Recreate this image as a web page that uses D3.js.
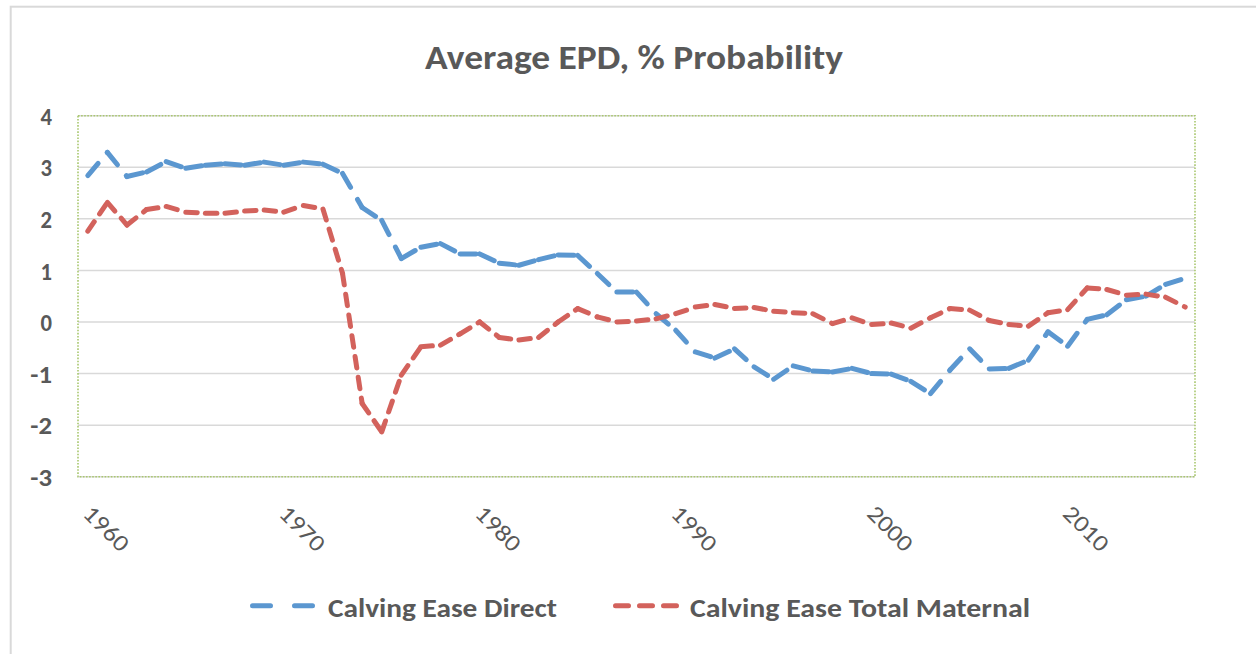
<!DOCTYPE html>
<html>
<head>
<meta charset="utf-8">
<script src="https://cdn.jsdelivr.net/npm/d3@7"></script>
<style>
  body { margin: 0; background: #fff; }
  text { font-family: Carlito, Calibri, Lato, "Open Sans", sans-serif; fill: #595959; }
</style>
</head>
<body>
<div id="chart"></div>
<script>
// Daten
const years = d3.range(1960, 2017);
const yTicks = [-3, -2, -1, 0, 1, 2, 3, 4];
const xLabels = [1960, 1970, 1980, 1990, 2000, 2010];
const seriesNames = ["Calving Ease Direct", "Calving Ease Total Maternal"];

const ceDirect = [2.84, 3.29, 2.82, 2.91, 3.11, 2.98, 3.04, 3.07, 3.04, 3.10,
  3.04, 3.10, 3.06, 2.88, 2.22, 1.97, 1.23, 1.45, 1.52, 1.32,
  1.32, 1.14, 1.10, 1.21, 1.30, 1.29, 0.94, 0.58, 0.58, 0.16,
  -0.16, -0.58, -0.70, -0.52, -0.87, -1.11, -0.85, -0.95, -0.97, -0.90,
  -1.00, -1.01, -1.15, -1.39, -0.93, -0.52, -0.91, -0.90, -0.74, -0.19,
  -0.47, 0.05, 0.14, 0.43, 0.50, 0.73, 0.85];

const ceMaternal = [1.76, 2.32, 1.88, 2.18, 2.24, 2.13, 2.11, 2.11, 2.15, 2.17,
  2.13, 2.26, 2.19, 0.94, -1.58, -2.13, -1.03, -0.48, -0.45, -0.23,
  0.00, -0.30, -0.35, -0.30, 0.00, 0.26, 0.10, 0.00, 0.02, 0.06,
  0.16, 0.29, 0.34, 0.26, 0.28, 0.21, 0.18, 0.16, -0.03, 0.08,
  -0.05, -0.02, -0.12, 0.08, 0.26, 0.23, 0.03, -0.05, -0.08, 0.18,
  0.24, 0.66, 0.63, 0.52, 0.54, 0.48, 0.29];

const W = 1256, H = 654;
const plot = { left: 78, right: 1195, top: 115.7, bottom: 476.7 };

const svg = d3.select("#chart").append("svg")
  .attr("width", W).attr("height", H);

svg.append("rect").attr("width", W).attr("height", H).attr("fill", "#fff");

// Rahmen des Diagramms
svg.append("rect")
  .attr("x", 10.7).attr("y", 6.7)
  .attr("width", W + 50).attr("height", H + 50)
  .attr("fill", "none").attr("stroke", "#d9d9d9").attr("stroke-width", 2);

const x = d3.scaleBand().domain(years).range([plot.left, plot.right]);
const cx = d => x(d) + x.bandwidth() / 2;
const y = d3.scaleLinear().domain([-3, 4]).range([plot.bottom, plot.top]);

// Text mit Höhe über font-size und Breite über scale(sx,1) anpassen
function label(str, o) {
  const t = svg.append("text")
    .attr("text-anchor", o.anchor || "start")
    .attr("font-size", o.size)
    .attr("font-weight", o.bold ? "bold" : null)
    .text(str);
  if (o.middle) t.attr("dominant-baseline", "central");
  const sx = o.width ? o.width / t.node().getComputedTextLength() : 1;
  t.attr("transform", `translate(${o.x},${o.y}) rotate(${o.rotate || 0}) scale(${sx},1)`);
  return t;
}

// Gitterlinien
svg.append("g").selectAll("line").data(yTicks).join("line")
  .attr("x1", plot.left).attr("x2", plot.right)
  .attr("y1", d => y(d)).attr("y2", d => y(d))
  .attr("stroke", "#d9d9d9").attr("stroke-width", 1.5);

// Plotbereich (gepunktet)
svg.append("rect")
  .attr("x", plot.left).attr("y", plot.top)
  .attr("width", plot.right - plot.left).attr("height", plot.bottom - plot.top)
  .attr("fill", "none").attr("stroke", "#a9c76e")
  .attr("stroke-width", 1.6).attr("stroke-dasharray", "1.6,1.5");

// Y-Achse: Ziffernhöhe ~16.7px
yTicks.forEach(t => {
  label(t, { x: 52, y: y(t) + 1, anchor: "end", middle: true, bold: true,
    size: 23.5, width: String(t).length === 2 ? 21.7 : 11.5 });
});

// X-Achse (gedreht, 45°)
xLabels.forEach(lbl => {
  label(lbl, { x: cx(lbl) - 6, y: 515, size: 23.5, width: 54, rotate: 45 });
});

// Linien: Strichmuster startet bei jedem Segment neu (wie Excel)
function drawSeries(values, color, dash) {
  const g = svg.append("g");
  const segs = d3.pairs(years.map((yr, i) => [cx(yr), y(values[i])]));
  g.selectAll("line").data(segs).join("line")
    .attr("x1", d => d[0][0]).attr("y1", d => d[0][1])
    .attr("x2", d => d[1][0]).attr("y2", d => d[1][1])
    .attr("stroke", color).attr("stroke-width", 5)
    .attr("stroke-linecap", "round")
    .attr("stroke-dasharray", dash);
}

const blue = "#5b97d0", red = "#d3625c";
drawSeries(ceDirect, blue, "16,14");
drawSeries(ceMaternal, red, "11.5,9.5");

// Titel
label("Average EPD, % Probability", { x: 634, y: 69, anchor: "middle", bold: true, size: 34.5, width: 418 });

// Legende
const legY = 605.7;
svg.append("line")
  .attr("x1", 252.5).attr("x2", 313.5).attr("y1", legY).attr("y2", legY)
  .attr("stroke", blue).attr("stroke-width", 5).attr("stroke-linecap", "round")
  .attr("stroke-dasharray", "18,24");
label(seriesNames[0], { x: 328, y: 616.5, bold: true, size: 25.5, width: 229 });

svg.append("line")
  .attr("x1", 615.5).attr("x2", 676.5).attr("y1", legY).attr("y2", legY)
  .attr("stroke", red).attr("stroke-width", 5).attr("stroke-linecap", "round")
  .attr("stroke-dasharray", "13,11");
label(seriesNames[1], { x: 690, y: 616.5, bold: true, size: 25.5, width: 340 });
</script>
</body>
</html>
